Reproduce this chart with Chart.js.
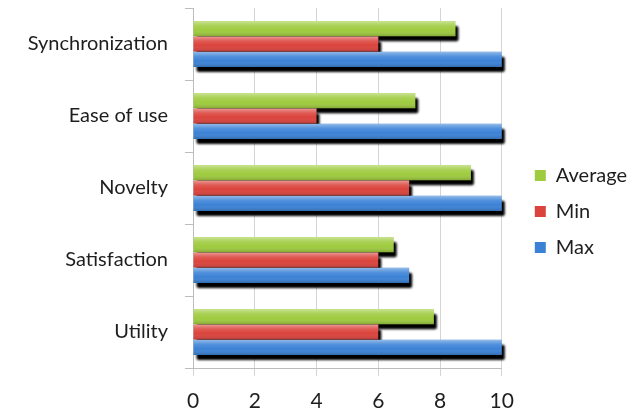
<!DOCTYPE html>
<html>
<head>
<meta charset="utf-8">
<script src="https://cdn.jsdelivr.net/npm/chart.js@4.4.1/dist/chart.umd.min.js"></script>
<style>
  html, body { margin: 0; padding: 0; background: #ffffff; }
  #wrap { width: 639px; height: 415px; }
</style>
</head>
<body>
<div id="wrap"><canvas id="chart" width="639" height="415"></canvas></div>
<script>
// Survey criteria and their scores (0-10)
const categories = ['Synchronization', 'Ease of use', 'Novelty', 'Satisfaction', 'Utility'];
const averageScores = [8.5, 7.2, 9.0, 6.5, 7.8];
const minScores = [6, 4, 7, 6, 6];
const maxScores = [10, 10, 10, 7, 10];
const xTicks = [0, 2, 4, 6, 8, 10];

const FONT = "Lato, 'Open Sans', sans-serif";
const LEGEND_GAP = 17;

// Drop shadow under every bar, painted before the bars themselves
const barShadow = {
  id: 'barShadow',
  beforeDatasetsDraw(chart) {
    const ctx = chart.ctx;
    ctx.save();
    ctx.fillStyle = '#000000';
    ctx.filter = 'blur(0.8px)';
    chart.data.datasets.forEach((ds, i) => {
      const meta = chart.getDatasetMeta(i);
      if (meta.hidden) return;
      meta.data.forEach(bar => {
        const { x, y, base, height } = bar.getProps(['x', 'y', 'base', 'height'], true);
        const left = Math.min(x, base), right = Math.max(x, base);
        ctx.beginPath();
        ctx.roundRect(left + 3, y - height / 2 + 5, right - left, height, 2);
        ctx.fill();
      });
    });
    ctx.restore();
  }
};

// Glossy highlight on top of each bar
const barGloss = {
  id: 'barGloss',
  afterDatasetsDraw(chart) {
    const ctx = chart.ctx;
    ctx.save();
    chart.data.datasets.forEach((ds, i) => {
      const meta = chart.getDatasetMeta(i);
      if (meta.hidden) return;
      meta.data.forEach(bar => {
        const { x, y, base, height } = bar.getProps(['x', 'y', 'base', 'height'], true);
        const top = y - height / 2;
        const left = Math.min(x, base), right = Math.max(x, base);
        const g = ctx.createLinearGradient(0, top, 0, top + height);
        g.addColorStop(0, 'rgba(255,255,255,0.45)');
        g.addColorStop(0.3, 'rgba(255,255,255,0.12)');
        g.addColorStop(0.6, 'rgba(255,255,255,0)');
        g.addColorStop(1, 'rgba(0,0,0,0.18)');
        ctx.fillStyle = g;
        ctx.fillRect(left, top, right - left, height);
      });
    });
    ctx.restore();
  }
};

// Widen the legend box on its left side so the plot keeps a gap from it
const legendGap = {
  id: 'legendGap',
  beforeLayout(chart) {
    const lg = chart.legend;
    if (lg && !lg._gapPatched) {
      const fit = lg.fit.bind(lg);
      lg.fit = function () { fit(); this.width += LEGEND_GAP; };
      lg._gapPatched = true;
    }
  },
  afterLayout(chart) {
    if (chart.legend) chart.legend.left += LEGEND_GAP;
  }
};

new Chart(document.getElementById('chart'), {
  type: 'bar',
  data: {
    labels: categories,
    datasets: [
      { label: 'Average', data: averageScores, backgroundColor: '#9fcb3f' },
      { label: 'Min', data: minScores, backgroundColor: '#db443d' },
      { label: 'Max', data: maxScores, backgroundColor: '#3b82d6' }
    ]
  },
  options: {
    indexAxis: 'y',
    responsive: false,
    animation: false,
    devicePixelRatio: 1,
    clip: false,
    categoryPercentage: 0.64,
    barPercentage: 0.98,
    layout: { padding: { top: 8, right: 2, bottom: 0, left: 0 } },
    scales: {
      x: {
        min: 0,
        max: 10,
        afterBuildTicks(scale) { scale.ticks = xTicks.map(v => ({ value: v })); },
        grid: { color: '#d4d4d4', tickLength: 8, lineWidth: 1 },
        border: { color: '#bdbdbd' },
        ticks: { padding: 13, color: '#1e1e1e', font: { family: FONT, size: 21 } },
        afterFit(scale) { scale.height = 47; }
      },
      y: {
        grid: { display: true, drawOnChartArea: false, offset: true, color: '#bdbdbd', tickLength: 8 },
        border: { display: true, color: '#bdbdbd' },
        ticks: { padding: 17, color: '#1e1e1e', font: { family: FONT, size: 20 } },
        afterFit(scale) {
          // room for the longest category name, no extra vertical padding
          scale.width = 193;
          scale.paddingTop = 0;
          scale.paddingBottom = 0;
        }
      }
    },
    plugins: {
      legend: {
        position: 'right',
        align: 'center',
        labels: {
          boxWidth: 11,
          boxHeight: 11,
          padding: 16,
          color: '#1e1e1e',
          font: { family: FONT, size: 20 }
        }
      },
      tooltip: { enabled: false }
    }
  },
  plugins: [barShadow, barGloss, legendGap]
});
</script>
</body>
</html>
